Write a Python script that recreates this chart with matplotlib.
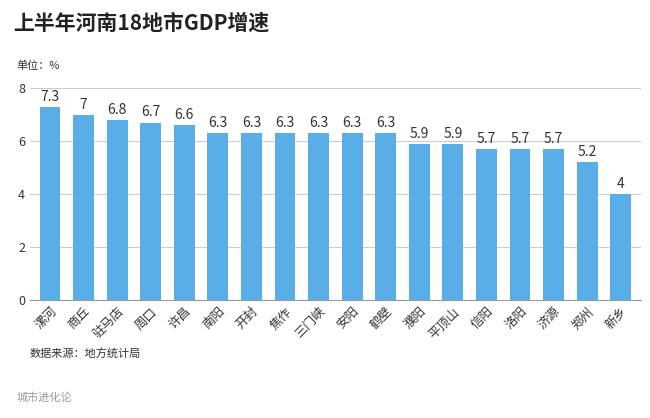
import matplotlib.pyplot as plt

plt.rcParams['font.family'] = ['Noto Sans CJK SC', 'DejaVu Sans']

cities = ["漯河", "商丘", "驻马店", "周口", "许昌", "南阳", "开封", "焦作", "三门峡",
          "安阳", "鹤壁", "濮阳", "平顶山", "信阳", "洛阳", "济源", "郑州", "新乡"]
growth = [7.3, 7, 6.8, 6.7, 6.6, 6.3, 6.3, 6.3, 6.3, 6.3, 6.3, 5.9, 5.9, 5.7, 5.7, 5.7, 5.2, 4]
labels = ["7.3", "7", "6.8", "6.7", "6.6", "6.3", "6.3", "6.3", "6.3", "6.3", "6.3",
          "5.9", "5.9", "5.7", "5.7", "5.7", "5.2", "4"]

fig = plt.figure(figsize=(6.5, 4.18), dpi=100)
ax = fig.add_axes([0.046, 0.282, 0.94, 0.507])

x = range(len(cities))
ax.bar(x, growth, width=0.62, color="#5aaee8", zorder=3)
for i, (v, t) in enumerate(zip(growth, labels)):
    ax.text(i, v + 0.12, t, ha="center", va="bottom", fontsize=10, color="#333333")

ax.set_ylim(0, 8)
ax.set_xlim(-0.6, len(cities) - 0.4)
ax.set_yticks([0, 2, 4, 6, 8])
ax.grid(axis="y", color="#cccccc", linewidth=0.8, zorder=0)
ax.set_xticks(list(x))
ax.set_xticklabels(cities, rotation=45, ha="right", rotation_mode="anchor", fontsize=9)
ax.tick_params(axis="both", length=0, labelsize=9, colors="#333333")
for s in ["top", "right", "left"]:
    ax.spines[s].set_visible(False)
ax.spines["bottom"].set_color("#999999")

fig.text(0.02, 0.93, "上半年河南18地市GDP增速", fontsize=15, fontweight="bold", color="#222222")
fig.text(0.025, 0.835, "单位：%", fontsize=8, color="#333333")
fig.text(0.046, 0.145, "数据来源：地方统计局", fontsize=8, color="#333333")
fig.text(0.025, 0.04, "城市进化论", fontsize=8, color="#999999")

fig.savefig("out.png", dpi=100, facecolor="white")
